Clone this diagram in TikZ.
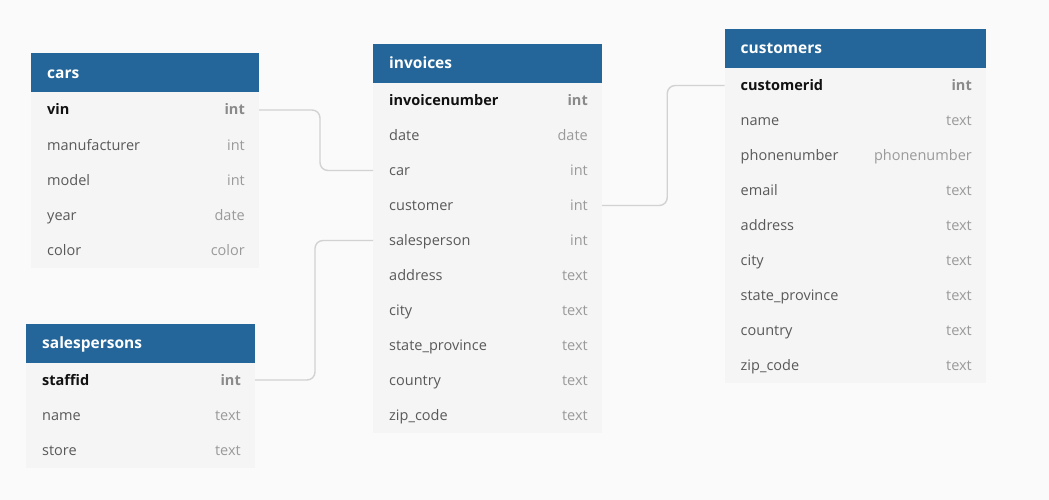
\documentclass[tikz,border=0pt]{standalone}
\usepackage{fontspec}
\setmainfont{Open Sans}
\usetikzlibrary{calc}
\definecolor{bg}{HTML}{FAFAFA}
\definecolor{hdr}{HTML}{246699}
\definecolor{rowbg}{HTML}{F5F5F5}
\definecolor{fname}{HTML}{595959}
\definecolor{ftype}{HTML}{9A9A9A}
\definecolor{ktype}{HTML}{8A8A8A}
\definecolor{kname}{HTML}{111111}
\definecolor{conncol}{HTML}{D2D2D2}
\tikzset{
  hdrbox/.style={rectangle, fill=hdr, inner sep=0pt, outer sep=0pt, anchor=north west, minimum height=39pt},
  hdrtext/.style={anchor=base west, inner sep=0pt, text=white, font=\fontsize{15.5}{17}\selectfont\bfseries},
  rowbox/.style={rectangle, fill=rowbg, inner sep=0pt, outer sep=0pt, anchor=north west, minimum height=35pt},
  fieldtext/.style={anchor=base west, inner sep=0pt, text=fname, font=\fontsize{14.5}{16}\selectfont},
  typetext/.style={anchor=base east, inner sep=0pt, text=ftype, font=\fontsize{14.5}{16}\selectfont},
  keytext/.style={fieldtext, text=kname, font=\fontsize{14.5}{16}\selectfont\bfseries},
  keytype/.style={typetext, text=ktype, font=\fontsize{14.5}{16}\selectfont\bfseries},
  conn/.style={draw=conncol, line width=1.4pt, rounded corners=8pt},
}
% #1 name, #2 x, #3 y, #4 width, #5 title, #6 key field, #7 key type, #8 list
\newcommand{\ertbl}[8]{%
  \node[hdrbox, minimum width=#4pt] (#1-h) at (#2,#3) {};
  \node[hdrtext] (#1-ht) at ($(#1-h.west)+(16,5.5)$) {#5};
  \node[rowbox, minimum width=#4pt] (#1-r1) at (#2,#3+39) {};
  \node[keytext] (#1-f1) at ($(#1-r1.west)+(16,5)$) {#6};
  \node[keytype] (#1-t1) at ($(#1-r1.east)+(-14,5)$) {#7};
  \foreach \fn/\ty [count=\i from 2] in {#8} {
    \node[rowbox, minimum width=#4pt] (#1-r\i) at (#2,#3+39+35*\i-35) {};
    \node[fieldtext] (#1-f\i) at ($(#1-r\i.west)+(16,5)$) {\fn};
    \node[typetext] (#1-t\i) at ($(#1-r\i.east)+(-14,5)$) {\ty};
  }%
}
\begin{document}
\begin{tikzpicture}[x=1pt, y=-1pt]
\fill[bg] (0,0) rectangle (1049,500);
\useasboundingbox (0,0) rectangle (1049,500);

\ertbl{cars}{31}{53.5}{228}{cars}{vin}{int}{manufacturer/int, model/int, year/date, color/color}
\ertbl{inv}{373}{44}{229}{invoices}{invoicenumber}{int}{date/date, car/int, customer/int, salesperson/int, address/text, city/text, state\_province/text, country/text, zip\_code/text}
\ertbl{cust}{724.5}{29}{261.5}{customers}{customerid}{int}{name/text, phonenumber/phonenumber, email/text, address/text, city/text, state\_province/text, country/text, zip\_code/text}
\ertbl{sales}{26}{323.5}{229}{salespersons}{staffid}{int}{name/text, store/text}

\coordinate (m1) at ($(cars-r1.east)!0.5!(inv-r3.west)+(4,0)$);
\coordinate (m2) at ($(inv-r4.east)!0.5!(cust-r1.west)+(4,0)$);
\coordinate (m3) at ($(sales-r1.east)!0.5!(inv-r5.west)+(1,0)$);
\draw[conn] (cars-r1.east) -| (m1) |- (inv-r3.west);
\draw[conn] (inv-r4.east) -| (m2) |- (cust-r1.west);
\draw[conn] (sales-r1.east) -| (m3) |- (inv-r5.west);
\end{tikzpicture}
\end{document}
